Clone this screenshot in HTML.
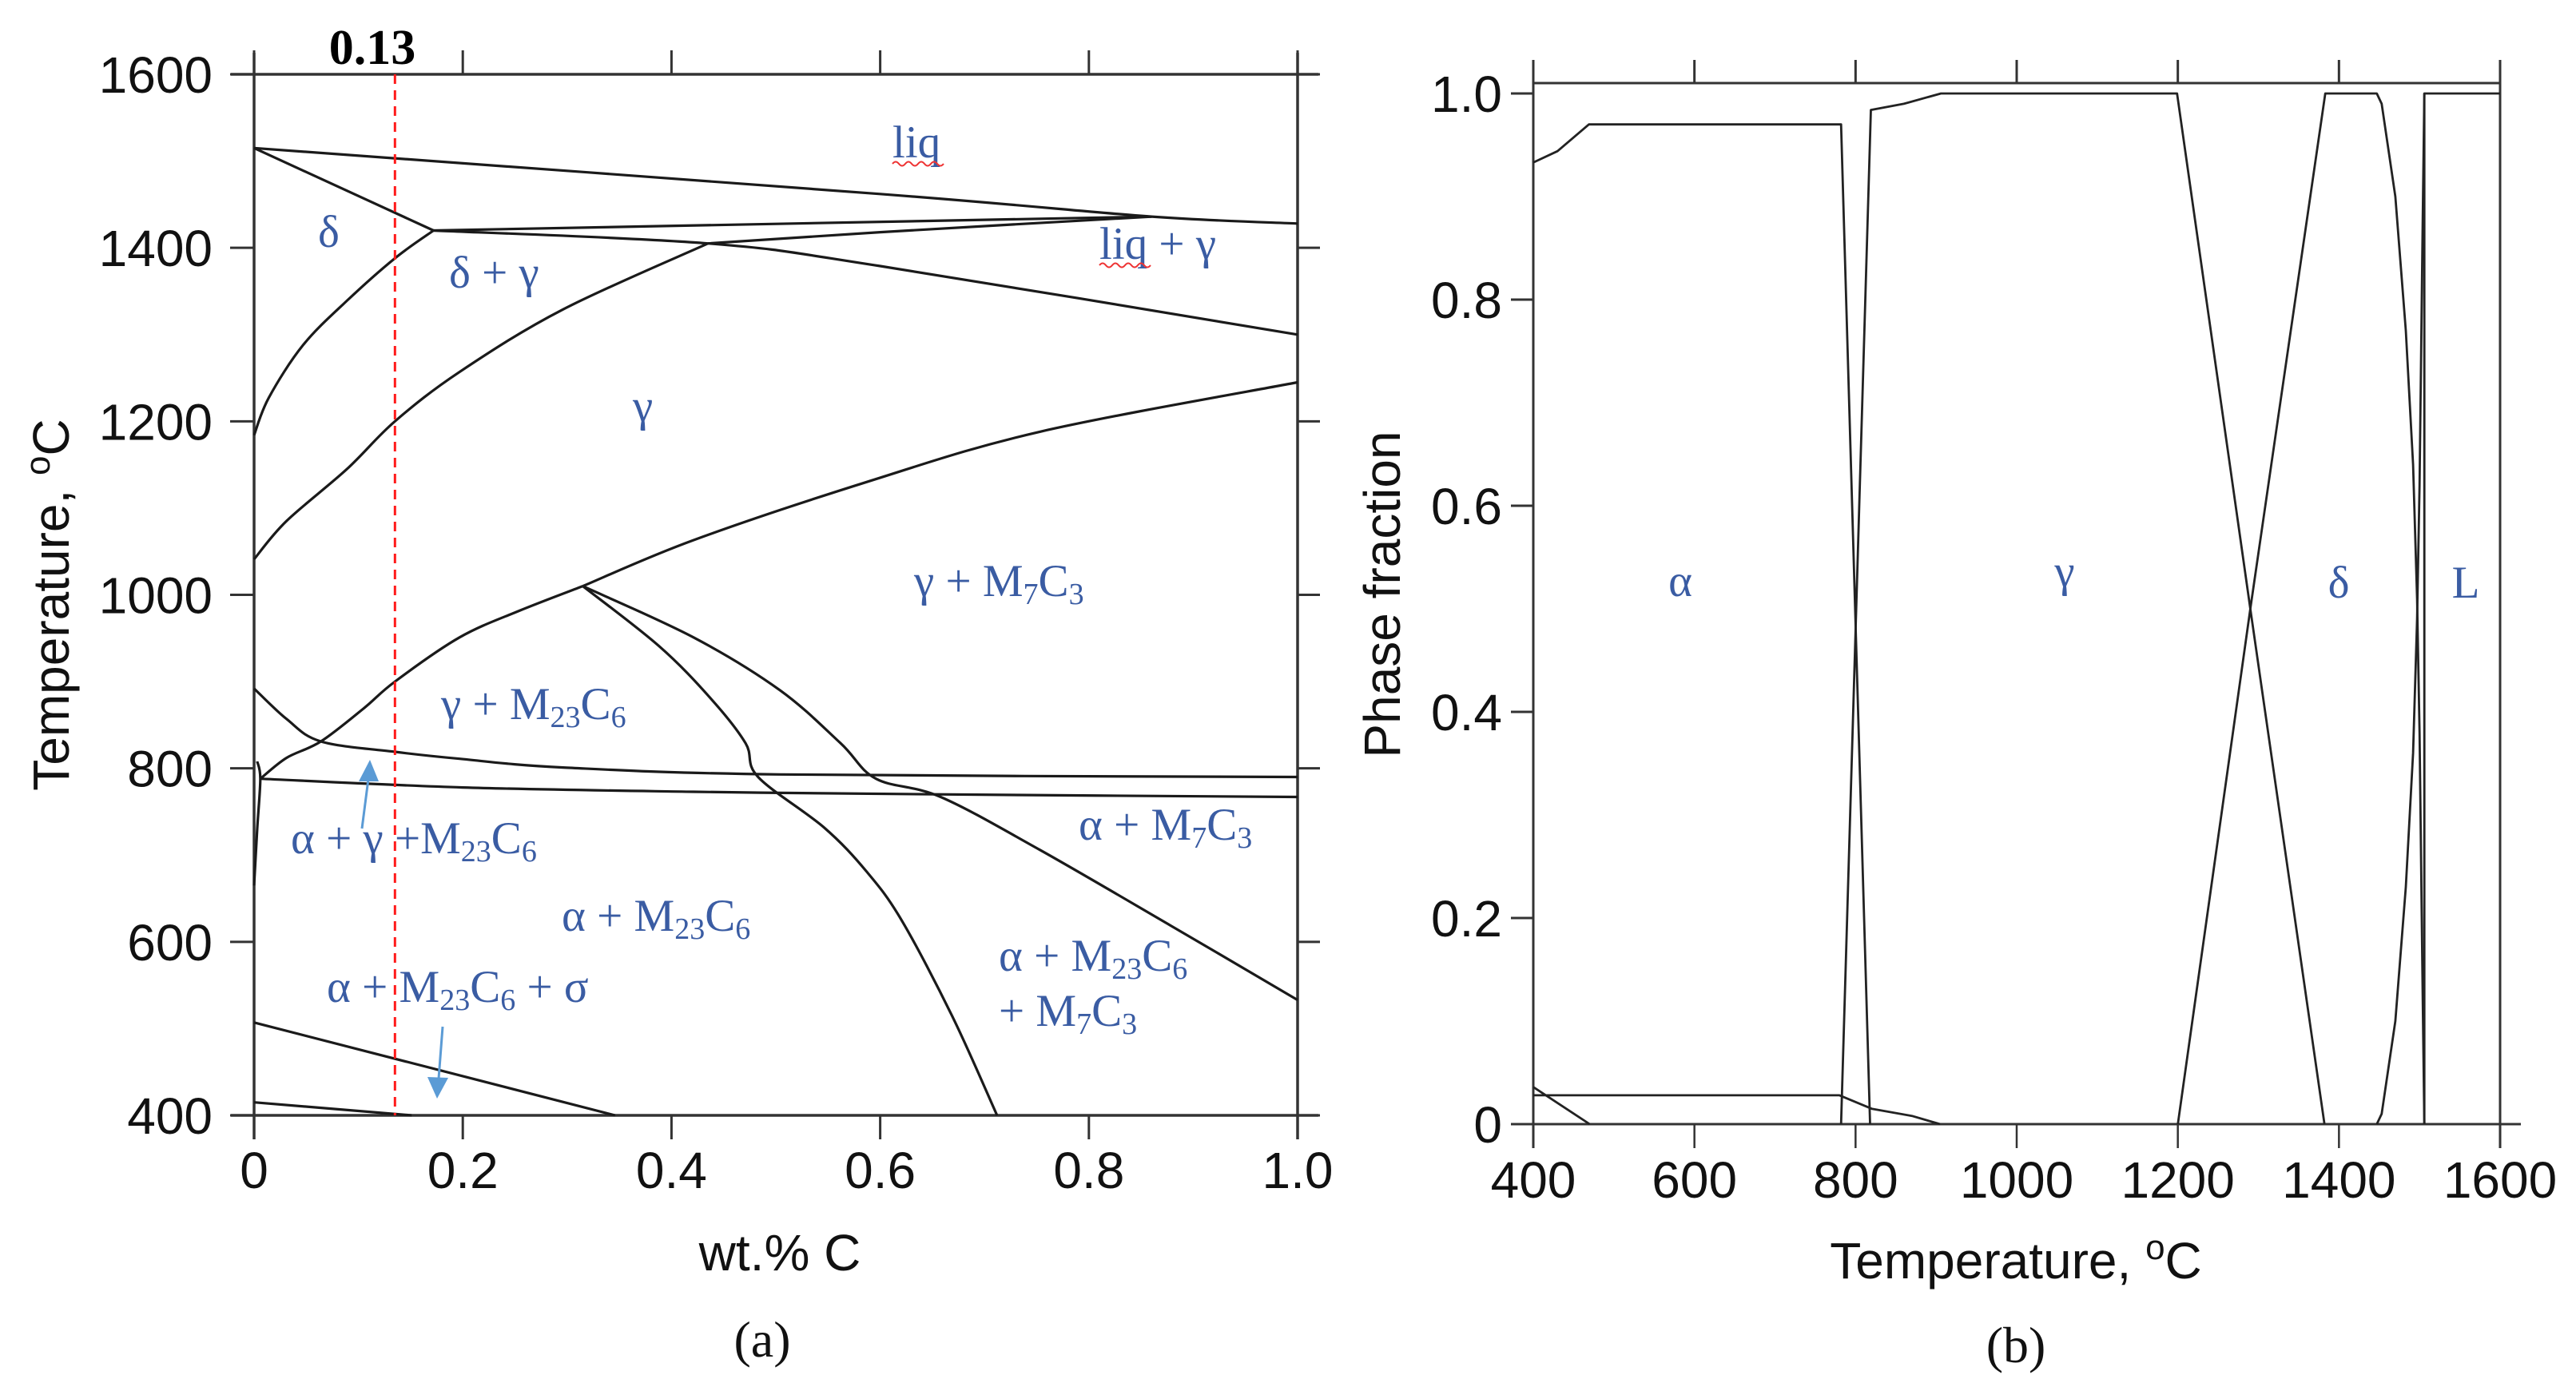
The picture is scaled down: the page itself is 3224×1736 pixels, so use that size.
<!DOCTYPE html>
<html><head><meta charset="utf-8">
<style>
html,body{margin:0;padding:0;background:#fff;}
svg{display:block;}
.tk{font-family:"Liberation Sans",sans-serif;font-size:64px;fill:#111;}
.ax{font-family:"Liberation Sans",sans-serif;font-size:64px;fill:#111;}
.lb{font-family:"Liberation Serif",serif;font-size:57px;fill:#3a5ca3;}
.cap{font-family:"Liberation Serif",serif;font-size:64px;fill:#111;}
</style></head>
<body>
<svg id="fig" width="3224" height="1736" viewBox="0 0 3224 1736" xmlns="http://www.w3.org/2000/svg">
<g id="pa"></g>
<g id="pb"></g>
<text x="466" y="80" text-anchor="middle" style="font-family:'Liberation Serif',serif;font-weight:bold;font-size:62px;fill:#000">0.13</text>
<text x="976" y="1590" text-anchor="middle" class="ax">wt.% C</text>
<text transform="translate(86,757) rotate(-90)" text-anchor="middle" class="ax">Temperature, <tspan dy="-24" font-size="44">o</tspan><tspan dy="24">C</tspan></text>
<text x="954" y="1698" text-anchor="middle" class="cap">(a)</text>
<g>
<text x="1117" y="197" class="lb">liq</text>
<path d="M1117 205 q4 -5 8 0 t8 0 t8 0 t8 0 t8 0 t8 0 t8 0 t8 0" fill="none" stroke="#e33" stroke-width="2"/>
<text x="1376" y="324" class="lb">liq + γ</text>
<path d="M1376 332 q4 -5 8 0 t8 0 t8 0 t8 0 t8 0 t8 0 t8 0 t8 0" fill="none" stroke="#e33" stroke-width="2"/>
<text x="398" y="309" class="lb">δ</text>
<text x="562" y="360" class="lb">δ + γ</text>
<text x="792" y="527" class="lb">γ</text>
<text x="1144" y="746" class="lb">γ + M<tspan font-size="38" dy="10">7</tspan><tspan dy="-10">C</tspan><tspan font-size="38" dy="10">3</tspan></text>
<text x="552" y="900" class="lb">γ + M<tspan font-size="38" dy="10">23</tspan><tspan dy="-10">C</tspan><tspan font-size="38" dy="10">6</tspan></text>
<text x="364" y="1068" class="lb">α + γ +M<tspan font-size="38" dy="10">23</tspan><tspan dy="-10">C</tspan><tspan font-size="38" dy="10">6</tspan></text>
<text x="703" y="1165" class="lb">α + M<tspan font-size="38" dy="10">23</tspan><tspan dy="-10">C</tspan><tspan font-size="38" dy="10">6</tspan></text>
<text x="1350" y="1051" class="lb">α + M<tspan font-size="38" dy="10">7</tspan><tspan dy="-10">C</tspan><tspan font-size="38" dy="10">3</tspan></text>
<text x="409" y="1254" class="lb">α + M<tspan font-size="38" dy="10">23</tspan><tspan dy="-10">C</tspan><tspan font-size="38" dy="10">6</tspan><tspan dy="-10"> + σ</tspan></text>
<text x="1250" y="1215" class="lb">α + M<tspan font-size="38" dy="10">23</tspan><tspan dy="-10">C</tspan><tspan font-size="38" dy="10">6</tspan></text>
<text x="1250" y="1284" class="lb">+ M<tspan font-size="38" dy="10">7</tspan><tspan dy="-10">C</tspan><tspan font-size="38" dy="10">3</tspan></text>
</g>
<g stroke="#5b9bd5" fill="#5b9bd5">
<line x1="453" y1="1037" x2="461" y2="975" stroke-width="3"/>
<polygon points="463,951 449,978 474,978" stroke="none"/>
<line x1="554" y1="1285" x2="549" y2="1350" stroke-width="3"/>
<polygon points="547,1375 535,1348 561,1349" stroke="none"/>
</g>
<text transform="translate(1752,744) rotate(-90)" text-anchor="middle" class="ax">Phase fraction</text>
<text x="2523" y="1600" text-anchor="middle" class="ax">Temperature, <tspan dy="-24" font-size="44">o</tspan><tspan dy="24">C</tspan></text>
<text x="2523" y="1705" text-anchor="middle" class="cap">(b)</text>
<text x="2103" y="746" text-anchor="middle" class="lb">α</text>
<text x="2584" y="734" text-anchor="middle" class="lb">γ</text>
<text x="2927" y="748" text-anchor="middle" class="lb">δ</text>
<text x="3086" y="748" text-anchor="middle" class="lb">L</text>
</svg>
<script>
// ---------- Panel (a) data: phase boundaries (wt.% C, T °C) ----------
const aXTicks = [0, 0.2, 0.4, 0.6, 0.8, 1.0];
const aXTickLabels = ["0", "0.2", "0.4", "0.6", "0.8", "1.0"];
const aYTicks = [400, 600, 800, 1000, 1200, 1400, 1600];
const aYTickLabels = ["400", "600", "800", "1000", "1200", "1400", "1600"];
const markerComposition = 0.135;
const liquidus = [[0,1515],[0.6,1462],[0.86,1436],[1.0,1428]];
const deltaSolvus = [[0,1515],[0.172,1420]];
const peritecticUpper = [[0.172,1420],[0.86,1436]];
const peritecticLower = [[0.172,1420],[0.435,1405],[0.6,1379],[1.0,1300]];
const gammaLiqBoundary = [[0.435,1405],[0.6,1418],[0.86,1436]];
const gammaDeltaBoundary = [[0,1041],[0.031,1085],[0.089,1145],[0.135,1200],[0.197,1257],[0.296,1329],[0.435,1405]];
const deltaGammaBoundary = [[0,1184],[0.014,1227],[0.047,1288],[0.089,1339],[0.135,1388],[0.172,1420]];
const gammaM7C3 = [[0.315,1010],[0.421,1063],[0.587,1130],[0.753,1188],[1.0,1245]];
const gammaM23C6 = [[0.006,788],[0.031,812],[0.064,831],[0.105,869],[0.135,900],[0.197,951],[0.255,982],[0.315,1010]];
const alphaGammaUpper = [[0,892],[0.031,857],[0.064,831],[0.135,819],[0.197,811],[0.296,801],[0.504,793],[1.0,790]];
const alphaGammaLower = [[0.006,788],[0.2,778],[0.421,773],[0.653,770],[1.0,767]];
const nearZero = [[0.003,808],[0.006,788],[0.003,730],[0,665]];
const m23c6Solvus = [[0.315,1010],[0.388,941],[0.438,880],[0.471,829],[0.483,790],[0.546,732],[0.587,681],[0.621,624],[0.67,512],[0.712,400]];
const m7c3Solvus = [[0.315,1010],[0.421,951],[0.504,890],[0.562,829],[0.596,788],[0.658,767],[0.753,706],[0.878,619],[1.0,533]];
const sigmaSolvus = [[0,507],[0.346,400]];
const lowLine = [[0,415],[0.151,400]];

// ---------- Panel (b) data: phase fraction vs T ----------
const bXTicks = [400, 600, 800, 1000, 1200, 1400, 1600];
const bXTickLabels = ["400", "600", "800", "1000", "1200", "1400", "1600"];
const bYTicks = [0, 0.2, 0.4, 0.6, 0.8, 1.0];
const bYTickLabels = ["0", "0.2", "0.4", "0.6", "0.8", "1.0"];
const alphaT = [400, 430, 469, 782, 818];
const alphaF = [0.933, 0.944, 0.970, 0.970, 0];
const gammaT = [782, 819, 860, 906, 1199, 1290, 1382];
const gammaF = [0, 0.984, 0.99, 1.0, 1.0, 0.5, 0];
const deltaT = [1200, 1290, 1383, 1447, 1453, 1470, 1483, 1492, 1497, 1500, 1502, 1504, 1506];
const deltaF = [0, 0.5, 1.0, 1.0, 0.99, 0.90, 0.77, 0.64, 0.51, 0.38, 0.25, 0.12, 0.0];
const liqT = [1447, 1453, 1470, 1483, 1492, 1497, 1500, 1502, 1504, 1506];
const liqF = [0, 0.01, 0.10, 0.23, 0.36, 0.49, 0.62, 0.75, 0.88, 1.0];
const liqStepT = [1506, 1506, 1600];
const liqStepF = [0, 1.0, 1.0];
const carbideAT = [400, 470];
const carbideAF = [0.036, 0];
const carbideBT = [400, 780, 820, 870, 905];
const carbideBF = [0.028, 0.028, 0.015, 0.008, 0];

const NS = "http://www.w3.org/2000/svg";
function mk(parent, tag, attrs) {
  const e = document.createElementNS(NS, tag);
  for (const k in attrs) e.setAttribute(k, attrs[k]);
  parent.appendChild(e);
  return e;
}
const ax = w => 318 + 1306 * w;
const ay = t => 1396 - (t - 400) * 1303 / 1200;
const bx = t => 1919 + (t - 400) * 1210 / 1200;
const by = f => 1407 - f * 1290;

function smoothPath(P) {
  if (P.length < 3) return 'M' + P.map(p => p[0].toFixed(1) + ' ' + p[1].toFixed(1)).join(' L');
  let d = 'M' + P[0][0].toFixed(1) + ' ' + P[0][1].toFixed(1);
  for (let i = 0; i < P.length - 1; i++) {
    const p0 = P[Math.max(0, i - 1)], p1 = P[i], p2 = P[i + 1], p3 = P[Math.min(P.length - 1, i + 2)];
    const c1 = [p1[0] + (p2[0] - p0[0]) / 6, p1[1] + (p2[1] - p0[1]) / 6];
    const c2 = [p2[0] - (p3[0] - p1[0]) / 6, p2[1] - (p3[1] - p1[1]) / 6];
    d += ' C' + c1[0].toFixed(1) + ' ' + c1[1].toFixed(1) + ' ' + c2[0].toFixed(1) + ' ' + c2[1].toFixed(1) + ' ' + p2[0].toFixed(1) + ' ' + p2[1].toFixed(1);
  }
  return d;
}

const pa = document.getElementById('pa');
const pb = document.getElementById('pb');

let e;
e = mk(pa, 'line', {x1: 289, y1: ay(400), x2: 1650, y2: ay(400), stroke: '#333', 'stroke-width': 3.5});


e = mk(pa, 'line', {x1: 289, y1: ay(1600), x2: 1650, y2: ay(1600), stroke: '#333', 'stroke-width': 3.5});


e = mk(pa, 'line', {x1: ax(0), y1: 66, x2: ax(0), y2: 1426, stroke: '#333', 'stroke-width': 3.5});


e = mk(pa, 'line', {x1: ax(1), y1: 66, x2: ax(1), y2: 1426, stroke: '#333', 'stroke-width': 3.5});


aXTicks.forEach((v, i) => {
  let t = mk(pa, 'line', {x1: ax(v), y1: ay(1600) - 30, x2: ax(v), y2: ay(1600), stroke: '#333', 'stroke-width': 3});
  
  
  t = mk(pa, 'line', {x1: ax(v), y1: ay(400), x2: ax(v), y2: ay(400) + 30, stroke: '#333', 'stroke-width': 3});
  
  
  const l = mk(pa, 'text', {x: ax(v), y: 1487, 'text-anchor': 'middle', class: 'tk'});
  l.textContent = aXTickLabels[i];
  
  
});
aYTicks.forEach((v, i) => {
  let t = mk(pa, 'line', {x1: ax(0) - 30, y1: ay(v), x2: ax(0), y2: ay(v), stroke: '#333', 'stroke-width': 3});
  
  
  t = mk(pa, 'line', {x1: ax(1), y1: ay(v), x2: ax(1) + 28, y2: ay(v), stroke: '#333', 'stroke-width': 3});
  
  
  const l = mk(pa, 'text', {x: 266, y: ay(v) + 23, 'text-anchor': 'end', class: 'tk'});
  l.textContent = aYTickLabels[i];
  
  
});
const boundaries = [
  ['liquidus', liquidus], ['delta-solvus', deltaSolvus], ['peritectic-upper', peritecticUpper],
  ['peritectic-lower', peritecticLower], ['gamma-liq-boundary', gammaLiqBoundary],
  ['gamma-delta-boundary', gammaDeltaBoundary], ['delta-gamma-boundary', deltaGammaBoundary],
  ['gamma-m7c3-boundary', gammaM7C3], ['gamma-m23c6-boundary', gammaM23C6],
  ['alpha-gamma-upper', alphaGammaUpper], ['alpha-gamma-lower', alphaGammaLower],
  ['near-zero-boundary', nearZero], ['m23c6-solvus', m23c6Solvus], ['m7c3-solvus', m7c3Solvus],
  ['sigma-solvus', sigmaSolvus], ['low-boundary', lowLine]
];
boundaries.forEach(([name, pts]) => {
  const P = pts.map(q => [ax(q[0]), ay(q[1])]);
  const p = mk(pa, 'path', {d: smoothPath(P), fill: 'none', stroke: '#1a1a1a', 'stroke-width': 3.2, 'stroke-linejoin': 'round'});
  
  
});
e = mk(pa, 'line', {x1: ax(markerComposition), y1: ay(1600), x2: ax(markerComposition), y2: ay(400), stroke: '#ff1a1a', 'stroke-width': 3, 'stroke-dasharray': '12,8'});



e = mk(pb, 'line', {x1: bx(400) - 15, y1: by(0), x2: 3155, y2: by(0), stroke: '#333', 'stroke-width': 3});


e = mk(pb, 'line', {x1: bx(400), y1: 104, x2: bx(1600), y2: 104, stroke: '#333', 'stroke-width': 3});


e = mk(pb, 'line', {x1: bx(400), y1: 75, x2: bx(400), y2: by(0) + 30, stroke: '#333', 'stroke-width': 3});


e = mk(pb, 'line', {x1: bx(1600), y1: 75, x2: bx(1600), y2: by(0) + 30, stroke: '#333', 'stroke-width': 3});


bXTicks.forEach((v, i) => {
  let t = mk(pb, 'line', {x1: bx(v), y1: 75, x2: bx(v), y2: 104, stroke: '#333', 'stroke-width': 3});
  
  
  t = mk(pb, 'line', {x1: bx(v), y1: by(0), x2: bx(v), y2: by(0) + 30, stroke: '#333', 'stroke-width': 2.5});
  
  
  const l = mk(pb, 'text', {x: bx(v), y: 1499, 'text-anchor': 'middle', class: 'tk'});
  l.textContent = bXTickLabels[i];
  
  
});
bYTicks.forEach((v, i) => {
  const t = mk(pb, 'line', {x1: bx(400) - 28, y1: by(v), x2: bx(400), y2: by(v), stroke: '#333', 'stroke-width': 3});
  
  
  const l = mk(pb, 'text', {x: 1880, y: by(v) + 23, 'text-anchor': 'end', class: 'tk'});
  l.textContent = bYTickLabels[i];
  
  
});
const seriesB = [
  ['alpha-fraction', alphaT, alphaF], ['gamma-fraction', gammaT, gammaF],
  ['delta-fraction', deltaT, deltaF], ['liquid-fraction', liqT, liqF],
  ['liquid-step', liqStepT, liqStepF], ['carbide-a-fraction', carbideAT, carbideAF],
  ['carbide-b-fraction', carbideBT, carbideBF]
];
seriesB.forEach(([name, T, F]) => {
  const p = mk(pb, 'polyline', {points: T.map((t, i) => bx(t).toFixed(1) + ',' + by(F[i]).toFixed(1)).join(' '), fill: 'none', stroke: '#222', 'stroke-width': 2.8, 'stroke-linejoin': 'round'});
  
  
});
</script>
</body></html>
